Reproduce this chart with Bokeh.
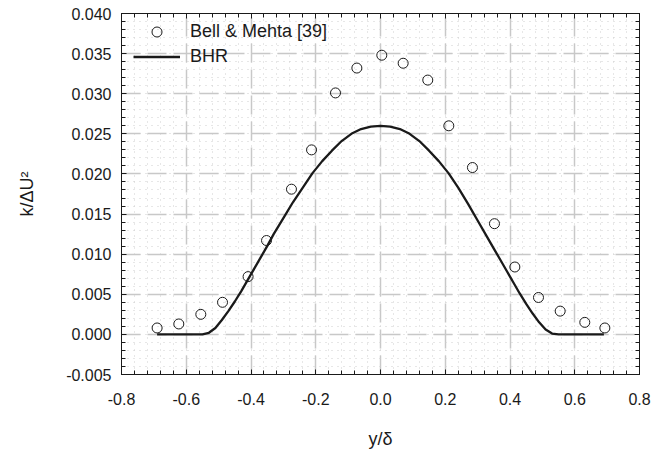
from bokeh.plotting import figure
from bokeh.models import (LinearAxis, SingleIntervalTicker, PrintfTickFormatter,
                          CustomJSTickFormatter, Legend, LegendItem, Range1d, Grid)
from bokeh.embed import file_html
from bokeh.resources import INLINE

# Bell & Mehta [39] measurements: turbulent kinetic energy across the mixing layer
bell_y = [-0.690, -0.623, -0.555, -0.488, -0.409, -0.352, -0.275, -0.213, -0.139,
          -0.073, 0.004, 0.070, 0.146, 0.211, 0.284, 0.352, 0.415, 0.488, 0.555,
          0.631, 0.693]
bell_k = [0.0008, 0.0013, 0.0025, 0.0040, 0.0072, 0.0117, 0.0181, 0.0230, 0.0301,
          0.0332, 0.0348, 0.0338, 0.0317, 0.0260, 0.0208, 0.0138, 0.0084, 0.0046,
          0.0029, 0.0015, 0.0008]

# BHR model profile
bhr_y = [-0.69, -0.60, -0.55, -0.53, -0.51, -0.49, -0.47, -0.45, -0.43, -0.41,
         -0.39, -0.37, -0.35, -0.33, -0.30, -0.27, -0.24, -0.21, -0.18, -0.15,
         -0.12, -0.09, -0.06, -0.03, 0.00, 0.03, 0.06, 0.09, 0.12, 0.15, 0.18,
         0.21, 0.24, 0.27, 0.30, 0.33, 0.35, 0.37, 0.39, 0.41, 0.43, 0.45, 0.47,
         0.49, 0.51, 0.53, 0.55, 0.60, 0.69]
bhr_k = [0.0, 0.0, 0.0, 0.0002, 0.0008, 0.0018, 0.0029, 0.0041, 0.0054, 0.0068,
         0.0082, 0.0096, 0.0110, 0.0125, 0.0145, 0.0165, 0.0183, 0.0201, 0.0216,
         0.0229, 0.0241, 0.0250, 0.0256, 0.0259, 0.0260, 0.0259, 0.0256, 0.0250,
         0.0241, 0.0229, 0.0216, 0.0201, 0.0183, 0.0163, 0.0142, 0.0121, 0.0107,
         0.0093, 0.0079, 0.0065, 0.0051, 0.0038, 0.0026, 0.0015, 0.0006, 0.0001,
         0.0, 0.0, 0.0]

FONT = "Liberation Sans"
INK = "#1a1a1a"

p = figure(width=670, height=451, output_backend="svg", toolbar_location=None,
           x_range=Range1d(-0.8, 0.8), y_range=Range1d(-0.005, 0.040),
           x_axis_type=None, y_axis_type=None,
           min_border_left=121, min_border_right=31, min_border_top=13,
           min_border_bottom=76)
p.background_fill_color = "white"
p.border_fill_color = "white"
p.outline_line_color = INK
p.outline_line_width = 1

def make_tickers():
    return (SingleIntervalTicker(interval=0.2, num_minor_ticks=5),
            SingleIntervalTicker(interval=0.005, num_minor_ticks=5))

xt, yt = make_tickers()

def style_axis(ax, show_labels):
    ax.axis_line_color = INK
    ax.major_tick_line_color = INK
    ax.minor_tick_line_color = INK
    ax.major_tick_in = 5
    ax.major_tick_out = 0
    ax.minor_tick_in = 4
    ax.minor_tick_out = 0
    ax.major_label_text_font = FONT
    ax.axis_label_text_font = FONT
    ax.axis_label_text_font_style = "normal"
    ax.axis_label_text_color = INK
    if show_labels:
        ax.major_label_text_color = INK
        ax.major_label_text_font_size = "16px"
        ax.axis_label_text_font_size = "18px"
    else:
        # tick marks only on the mirrored top/right frame edges
        ax.formatter = CustomJSTickFormatter(code="return ''")
        ax.major_label_text_color = None
        ax.major_label_standoff = 0

xb = LinearAxis(ticker=xt, formatter=PrintfTickFormatter(format="%.1f"),
                axis_label="y/δ")
style_axis(xb, True)
xb.major_label_standoff = 18
xb.axis_label_standoff = 21
p.add_layout(xb, "below")

yl = LinearAxis(ticker=yt, formatter=PrintfTickFormatter(format="%.3f"),
                axis_label="k/ΔU²")
style_axis(yl, True)
yl.major_label_standoff = 10
yl.axis_label_standoff = 26
p.add_layout(yl, "left")

xa_t, ya_t = make_tickers()
xa = LinearAxis(ticker=xa_t)
style_axis(xa, False)
p.add_layout(xa, "above")
ya = LinearAxis(ticker=ya_t)
style_axis(ya, False)
p.add_layout(ya, "right")

# grids: dashed majors, dotted minors
for dim, tk in ((0, xt), (1, yt)):
    g = Grid(dimension=dim, ticker=tk)
    g.grid_line_color = "#c8c8c8"
    g.grid_line_width = 1.5
    g.grid_line_dash = "19 7"
    g.minor_grid_line_color = "#cfcfcf"
    g.minor_grid_line_width = 1
    g.minor_grid_line_dash = "1 5"
    p.add_layout(g)

ln = p.line(bhr_y, bhr_k, line_color=INK, line_width=2.3)
sc = p.scatter(bell_y, bell_k, marker="circle", size=10, fill_color=None,
               line_color=INK, line_width=1)

# legend anchored by its lower-left corner, in pixels from the frame's lower-left
legend = Legend(items=[LegendItem(label="Bell & Mehta [39]", renderers=[sc]),
                       LegendItem(label="BHR", renderers=[ln])],
                location=(12, 305))
legend.border_line_color = None
legend.background_fill_alpha = 0
legend.margin = 0
legend.padding = 0
legend.glyph_width = 47
legend.glyph_height = 25
legend.label_height = 25
legend.label_standoff = 10
legend.spacing = 0
legend.label_text_font = FONT
legend.label_text_font_size = "18px"
legend.label_text_color = INK
p.add_layout(legend)

open("out.html", "w").write(file_html(p, INLINE))
